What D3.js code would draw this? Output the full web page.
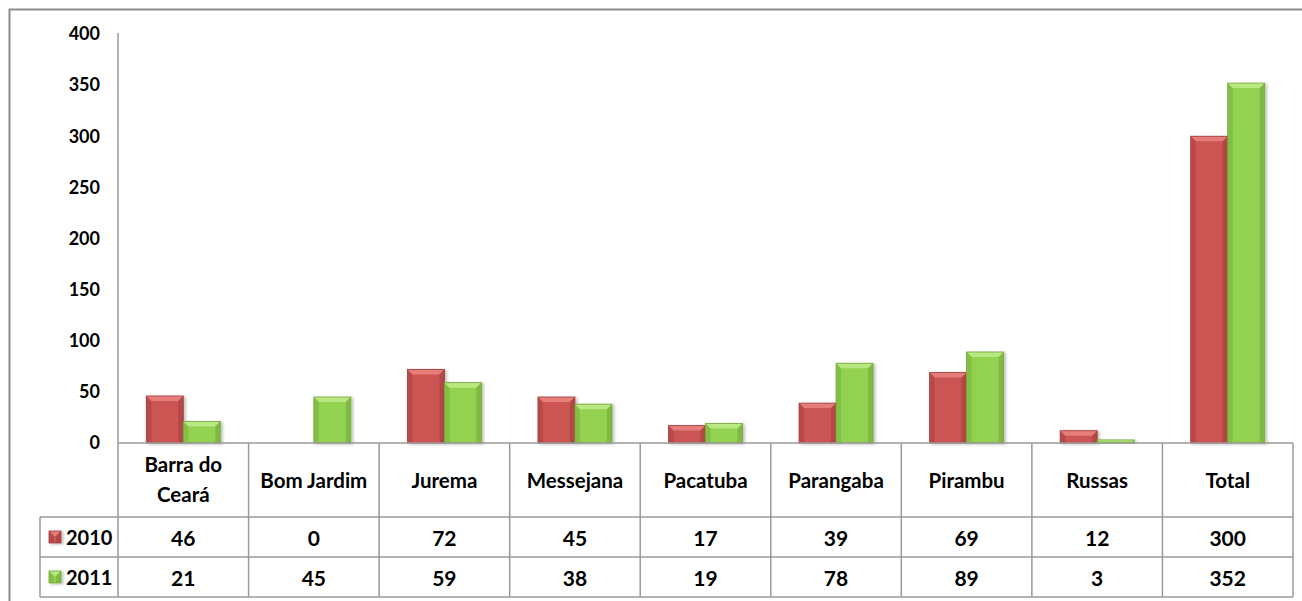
<!DOCTYPE html>
<html>
<head>
<meta charset="utf-8">
<script src="https://cdn.jsdelivr.net/npm/d3@7"></script>
<style>
  body { margin: 0; background: #fff; }
  text { font-family: Lato, "Noto Sans", sans-serif; font-weight: bold; fill: #000; }
</style>
</head>
<body>
<div id="chart"></div>
<script>
// chart data
var categories = ['Barra do Ceará', 'Bom Jardim', 'Jurema', 'Messejana', 'Pacatuba',
                  'Parangaba', 'Pirambu', 'Russas', 'Total'];
var seriesNames = ['2010', '2011'];
var values2010 = [46, 0, 72, 45, 17, 39, 69, 12, 300];
var values2011 = [21, 45, 59, 38, 19, 78, 89, 3, 352];
var yTicks = [0, 50, 100, 150, 200, 250, 300, 350, 400];

var palette = {
  '2010': { base: '#cb5452', light: '#e57d7a', dark: '#a33e3c' },
  '2011': { base: '#93d151', light: '#b8e87f', dark: '#72a93a' }
};

var W = 1302, H = 601;
var left = 118, right = 1293, zeroY = 443;
var rowTop = [443, 517, 557, 597];
var legendLeft = 40;

var svg = d3.select('#chart').append('svg')
    .attr('width', W).attr('height', H);

var defs = svg.append('defs');
var shadow = defs.append('filter').attr('id', 'shadow')
    .attr('x', '-20%').attr('y', '-20%').attr('width', '150%').attr('height', '150%');
shadow.append('feDropShadow').attr('dx', 2).attr('dy', 1)
    .attr('stdDeviation', 1.5).attr('flood-color', '#000').attr('flood-opacity', 0.25);

// outer border
svg.append('path').attr('d', 'M9.5,' + H + 'V9.5H' + W)
    .attr('fill', 'none').attr('stroke', '#8c8c8c').attr('stroke-width', 2);

var y = d3.scaleLinear().domain([0, 400]).range([zeroY, 34]);
var x = d3.scaleBand().domain(categories).range([left, right]).padding(0);
var inner = d3.scaleBand().domain(seriesNames).range([0, 74]).padding(0);

// y axis labels
var yAxis = d3.axisLeft(y).tickValues(yTicks).tickSize(0).tickPadding(18);
var gy = svg.append('g').attr('transform', 'translate(' + left + ',0)').call(yAxis);
gy.select('.domain').remove();
gy.selectAll('text').style('font-size', '18px').style('font-family', 'Lato, sans-serif')
    .style('font-weight', 'bold').attr('fill', '#000');

/**
 * Draw one bevelled bar
 */
var drawBar = function(g, x0, w, top, bottom, col) {
  var h = bottom - top;
  if (h <= 0) return;
  var b = Math.min(5, h / 2);
  var bar = g.append('g').attr('filter', 'url(#shadow)');
  bar.append('rect').attr('x', x0).attr('y', top).attr('width', w).attr('height', h)
      .attr('fill', col.base);
  // top bevel
  bar.append('path').attr('d', 'M' + x0 + ',' + top + 'H' + (x0 + w) + 'L' + (x0 + w - b) + ',' + (top + b)
      + 'H' + (x0 + b) + 'Z').attr('fill', col.light);
  // side bevels
  bar.append('path').attr('d', 'M' + x0 + ',' + top + 'L' + (x0 + b) + ',' + (top + b)
      + 'V' + (bottom) + 'H' + x0 + 'Z').attr('fill', col.dark).attr('opacity', 0.45);
  bar.append('path').attr('d', 'M' + (x0 + w) + ',' + top + 'L' + (x0 + w - b) + ',' + (top + b)
      + 'V' + (bottom) + 'H' + (x0 + w) + 'Z').attr('fill', col.dark).attr('opacity', 0.6);
  bar.append('rect').attr('x', x0).attr('y', top).attr('width', w).attr('height', h)
      .attr('fill', 'none').attr('stroke', col.dark).attr('stroke-width', 0.8);
};

var series = [values2010, values2011];
var bars = svg.append('g');
categories.forEach(function(c, i) {
  var cx = x(c) + x.bandwidth() / 2 - 37;
  seriesNames.forEach(function(s, j) {
    drawBar(bars, cx + inner(s), inner.bandwidth(), y(series[j][i]), zeroY, palette[s]);
  });
});

// data table grid
var grid = svg.append('g').attr('stroke', '#9a9a9a').attr('stroke-width', 1.5).attr('fill', 'none');
grid.append('line').attr('x1', left).attr('x2', left).attr('y1', 33).attr('y2', rowTop[3]);
grid.append('line').attr('x1', left).attr('x2', right).attr('y1', rowTop[0]).attr('y2', rowTop[0]);
[1, 2, 3].forEach(function(r) {
  grid.append('line').attr('x1', legendLeft).attr('x2', right).attr('y1', rowTop[r]).attr('y2', rowTop[r]);
});
grid.append('line').attr('x1', legendLeft).attr('x2', legendLeft).attr('y1', rowTop[1]).attr('y2', rowTop[3]);
categories.forEach(function(c) {
  var xr = x(c) + x.bandwidth();
  grid.append('line').attr('x1', xr).attr('x2', xr).attr('y1', rowTop[0]).attr('y2', rowTop[3]);
});

// header labels
var header = svg.append('g').style('font-size', '20.5px').attr('text-anchor', 'middle');
categories.forEach(function(c) {
  var cx = x(c) + x.bandwidth() / 2;
  var t = header.append('text').attr('x', cx).attr('dominant-baseline', 'central');
  if (c === 'Barra do Ceará') {
    t.append('tspan').attr('x', cx).attr('y', 464).text('Barra do');
    t.append('tspan').attr('x', cx).attr('y', 494).text('Ceará');
  } else {
    t.attr('y', 480).text(c);
  }
});

// value rows
series.forEach(function(vals, j) {
  var cy = (rowTop[j + 1] + rowTop[j + 2]) / 2;
  var row = svg.append('g').style('font-size', '21px').attr('text-anchor', 'middle');
  vals.forEach(function(v, i) {
    row.append('text').attr('x', x(categories[i]) + x.bandwidth() / 2).attr('y', cy)
        .attr('dominant-baseline', 'central').text(v);
  });
  // legend key
  var col = palette[seriesNames[j]];
  drawBar(svg, 49, 12, cy - 6, cy + 6, col);
  svg.append('text').attr('x', 66).attr('y', cy).attr('dominant-baseline', 'central')
      .style('font-size', '20px').text(seriesNames[j]);
});
</script>
</body>
</html>
